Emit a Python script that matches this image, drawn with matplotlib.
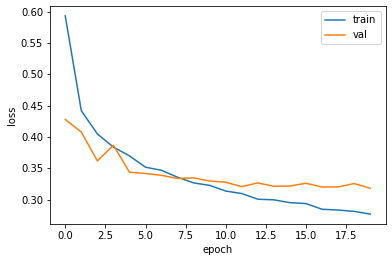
import numpy as np
import matplotlib
matplotlib.use("Agg")
import matplotlib.pyplot as plt

# loss per epoch
epochs = np.arange(20)
train_loss = [0.593, 0.442, 0.405, 0.384, 0.370, 0.352, 0.347, 0.336, 0.327, 0.323,
              0.314, 0.310, 0.301, 0.300, 0.2955, 0.294, 0.285, 0.2837, 0.2816, 0.2773]
val_loss = [0.428, 0.408, 0.362, 0.387, 0.344, 0.342, 0.339, 0.334, 0.335, 0.330,
            0.328, 0.321, 0.327, 0.3216, 0.322, 0.3264, 0.3205, 0.3205, 0.326, 0.3184]

fig = plt.figure(figsize=(392 / 72, 262 / 72), dpi=72)
ax = fig.add_axes([50 / 392, 1 - 224 / 262, 335.5 / 392, 218 / 262])
ax.plot(epochs, train_loss, label="train")
ax.plot(epochs, val_loss, label="val")
ax.set_xlabel("epoch")
ax.set_ylabel("loss")
ax.legend()
fig.savefig("out.png", dpi=72)
